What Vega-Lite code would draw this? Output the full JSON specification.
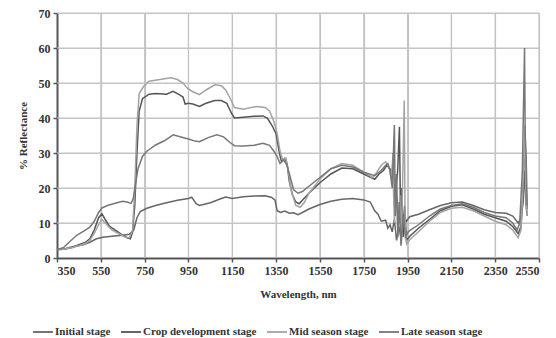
{
  "$schema": "https://vega.github.io/schema/vega-lite/v6.json",
  "width": 482,
  "height": 245,
  "autosize": {"type": "none"},
  "padding": {"left": 57, "top": 13, "right": 17, "bottom": 80},
  "background": "white",
  "config": {
    "view": {"stroke": null},
    "font": "Liberation Serif",
    "axis": {"grid": false, "labelFont": "Liberation Serif", "titleFont": "Liberation Serif", "labelFontWeight": "bold", "titleFontWeight": "bold", "labelFontSize": 12, "titleFontSize": 11, "labelColor": "#333", "titleColor": "#333", "domainColor": "#555", "domainWidth": 2, "tickColor": "#555", "tickSize": 4, "tickWidth": 1.5}
  },
  "resolve": {"axis": {"x": "independent", "y": "independent"}},
  "datasets": {
    "gx": [{"g":550,"a":0,"b":70},{"g":750,"a":0,"b":70},{"g":950,"a":0,"b":70},{"g":1150,"a":0,"b":70},{"g":1350,"a":0,"b":70},{"g":1550,"a":0,"b":70},{"g":1750,"a":0,"b":70},{"g":1950,"a":0,"b":70},{"g":2150,"a":0,"b":70},{"g":2350,"a":0,"b":70},{"g":2550,"a":0,"b":70}],
    "gy": [{"g":10,"a":350,"b":2550},{"g":20,"a":350,"b":2550},{"g":30,"a":350,"b":2550},{"g":40,"a":350,"b":2550},{"g":50,"a":350,"b":2550},{"g":60,"a":350,"b":2550},{"g":70,"a":350,"b":2550}]
  },
  "layer": [
    {
      "data": {"name": "gx"},
      "mark": {"type": "rule", "stroke": "#c4c4c4", "strokeWidth": 1.2},
      "encoding": {
        "x": {"field": "g", "type": "quantitative", "scale": {"domain": [350, 2550], "nice": false, "zero": false},
          "axis": {"orient": "top", "values": [550, 750, 950, 1150, 1350, 1550, 1750, 1950, 2150, 2350, 2550], "labels": false, "domain": false, "title": null, "tickSize": -245, "tickColor": "#c4c4c4", "tickWidth": 1.2}},
        "y": {"field": "a", "type": "quantitative", "scale": {"domain": [0, 70], "nice": false}, "axis": null},
        "y2": {"field": "b"}
      }
    },
    {
      "data": {"name": "gy"},
      "mark": {"type": "rule", "stroke": "#c4c4c4", "strokeWidth": 1.2},
      "encoding": {
        "y": {"field": "g", "type": "quantitative", "scale": {"domain": [0, 70], "nice": false},
          "axis": {"orient": "right", "values": [10, 20, 30, 40, 50, 60, 70], "labels": false, "domain": false, "title": null, "tickSize": -482, "tickColor": "#c4c4c4", "tickWidth": 1.2}},
        "x": {"field": "a", "type": "quantitative", "scale": {"domain": [350, 2550], "nice": false, "zero": false}, "axis": null},
        "x2": {"field": "b"}
      }
    },
    {
      "data": {"values": [
    {"w":350,"r":2.4,"s":"Initial stage"},{"w":380,"r":2.5,"s":"Initial stage"},{"w":420,"r":3.2,"s":"Initial stage"},{"w":470,"r":3.8,"s":"Initial stage"},{"w":500,"r":4.5,"s":"Initial stage"},{"w":530,"r":5.5,"s":"Initial stage"},{"w":560,"r":5.9,"s":"Initial stage"},{"w":600,"r":6.2,"s":"Initial stage"},{"w":650,"r":6.5,"s":"Initial stage"},{"w":680,"r":6.8,"s":"Initial stage"},{"w":700,"r":8,"s":"Initial stage"},{"w":715,"r":11.5,"s":"Initial stage"},{"w":730,"r":13.3,"s":"Initial stage"},{"w":760,"r":14.2,"s":"Initial stage"},{"w":800,"r":15,"s":"Initial stage"},{"w":850,"r":15.8,"s":"Initial stage"},{"w":900,"r":16.5,"s":"Initial stage"},{"w":950,"r":17,"s":"Initial stage"},{"w":965,"r":17.4,"s":"Initial stage"},{"w":985,"r":15.5,"s":"Initial stage"},{"w":1000,"r":15,"s":"Initial stage"},{"w":1050,"r":15.8,"s":"Initial stage"},{"w":1100,"r":17,"s":"Initial stage"},{"w":1120,"r":17.4,"s":"Initial stage"},{"w":1150,"r":17,"s":"Initial stage"},{"w":1200,"r":17.5,"s":"Initial stage"},{"w":1250,"r":17.7,"s":"Initial stage"},{"w":1300,"r":17.8,"s":"Initial stage"},{"w":1330,"r":17.3,"s":"Initial stage"},{"w":1345,"r":16.5,"s":"Initial stage"},{"w":1355,"r":13.5,"s":"Initial stage"},{"w":1370,"r":13,"s":"Initial stage"},{"w":1390,"r":13.4,"s":"Initial stage"},{"w":1410,"r":12.8,"s":"Initial stage"},{"w":1430,"r":12.9,"s":"Initial stage"},{"w":1450,"r":12.4,"s":"Initial stage"},{"w":1470,"r":13,"s":"Initial stage"},{"w":1500,"r":14,"s":"Initial stage"},{"w":1550,"r":15.3,"s":"Initial stage"},{"w":1600,"r":16.2,"s":"Initial stage"},{"w":1650,"r":16.8,"s":"Initial stage"},{"w":1700,"r":17,"s":"Initial stage"},{"w":1750,"r":16.6,"s":"Initial stage"},{"w":1780,"r":16,"s":"Initial stage"},{"w":1800,"r":13.5,"s":"Initial stage"},{"w":1815,"r":12.5,"s":"Initial stage"},{"w":1830,"r":10.5,"s":"Initial stage"},{"w":1850,"r":10.8,"s":"Initial stage"},{"w":1860,"r":8.5,"s":"Initial stage"},{"w":1870,"r":9.5,"s":"Initial stage"},{"w":1880,"r":7.5,"s":"Initial stage"},{"w":1890,"r":11,"s":"Initial stage"},{"w":1900,"r":5,"s":"Initial stage"},{"w":1910,"r":9,"s":"Initial stage"},{"w":1920,"r":6,"s":"Initial stage"},{"w":1930,"r":12,"s":"Initial stage"},{"w":1945,"r":10.5,"s":"Initial stage"},{"w":1960,"r":11.8,"s":"Initial stage"},{"w":2000,"r":12.5,"s":"Initial stage"},{"w":2050,"r":13.8,"s":"Initial stage"},{"w":2100,"r":15,"s":"Initial stage"},{"w":2150,"r":15.8,"s":"Initial stage"},{"w":2200,"r":16,"s":"Initial stage"},{"w":2250,"r":15,"s":"Initial stage"},{"w":2300,"r":13.8,"s":"Initial stage"},{"w":2350,"r":13,"s":"Initial stage"},{"w":2400,"r":12.8,"s":"Initial stage"},{"w":2430,"r":12,"s":"Initial stage"},{"w":2455,"r":10,"s":"Initial stage"},{"w":2468,"r":11.5,"s":"Initial stage"},{"w":2478,"r":16,"s":"Initial stage"},{"w":2486,"r":25,"s":"Initial stage"},{"w":2491,"r":15,"s":"Initial stage"},{"w":2496,"r":12,"s":"Initial stage"},

    {"w":350,"r":2.4,"s":"Crop development stage"},{"w":380,"r":2.5,"s":"Crop development stage"},{"w":420,"r":3,"s":"Crop development stage"},{"w":450,"r":3.8,"s":"Crop development stage"},{"w":480,"r":4.5,"s":"Crop development stage"},{"w":500,"r":5.5,"s":"Crop development stage"},{"w":520,"r":8,"s":"Crop development stage"},{"w":540,"r":11.5,"s":"Crop development stage"},{"w":555,"r":12.6,"s":"Crop development stage"},{"w":570,"r":11,"s":"Crop development stage"},{"w":590,"r":9,"s":"Crop development stage"},{"w":620,"r":7.8,"s":"Crop development stage"},{"w":650,"r":6.5,"s":"Crop development stage"},{"w":670,"r":5.8,"s":"Crop development stage"},{"w":685,"r":5.5,"s":"Crop development stage"},{"w":695,"r":7.5,"s":"Crop development stage"},{"w":705,"r":15,"s":"Crop development stage"},{"w":715,"r":30,"s":"Crop development stage"},{"w":725,"r":42,"s":"Crop development stage"},{"w":740,"r":45.5,"s":"Crop development stage"},{"w":770,"r":46.8,"s":"Crop development stage"},{"w":800,"r":47,"s":"Crop development stage"},{"w":850,"r":46.8,"s":"Crop development stage"},{"w":880,"r":47.6,"s":"Crop development stage"},{"w":910,"r":46.6,"s":"Crop development stage"},{"w":925,"r":46,"s":"Crop development stage"},{"w":935,"r":44,"s":"Crop development stage"},{"w":950,"r":44.2,"s":"Crop development stage"},{"w":970,"r":44,"s":"Crop development stage"},{"w":1000,"r":43.3,"s":"Crop development stage"},{"w":1030,"r":44.2,"s":"Crop development stage"},{"w":1070,"r":45,"s":"Crop development stage"},{"w":1100,"r":45,"s":"Crop development stage"},{"w":1125,"r":44.2,"s":"Crop development stage"},{"w":1145,"r":41.5,"s":"Crop development stage"},{"w":1160,"r":40,"s":"Crop development stage"},{"w":1200,"r":40.2,"s":"Crop development stage"},{"w":1250,"r":40.5,"s":"Crop development stage"},{"w":1290,"r":40.6,"s":"Crop development stage"},{"w":1310,"r":40,"s":"Crop development stage"},{"w":1330,"r":38,"s":"Crop development stage"},{"w":1350,"r":35.5,"s":"Crop development stage"},{"w":1365,"r":30,"s":"Crop development stage"},{"w":1375,"r":27.5,"s":"Crop development stage"},{"w":1390,"r":28.5,"s":"Crop development stage"},{"w":1400,"r":27,"s":"Crop development stage"},{"w":1410,"r":22,"s":"Crop development stage"},{"w":1425,"r":18,"s":"Crop development stage"},{"w":1440,"r":16,"s":"Crop development stage"},{"w":1455,"r":15.5,"s":"Crop development stage"},{"w":1470,"r":16.5,"s":"Crop development stage"},{"w":1500,"r":18.5,"s":"Crop development stage"},{"w":1550,"r":21.5,"s":"Crop development stage"},{"w":1600,"r":24,"s":"Crop development stage"},{"w":1650,"r":25.7,"s":"Crop development stage"},{"w":1700,"r":25.5,"s":"Crop development stage"},{"w":1750,"r":24,"s":"Crop development stage"},{"w":1800,"r":22.5,"s":"Crop development stage"},{"w":1820,"r":24,"s":"Crop development stage"},{"w":1840,"r":25,"s":"Crop development stage"},{"w":1855,"r":26.5,"s":"Crop development stage"},{"w":1870,"r":25.5,"s":"Crop development stage"},{"w":1880,"r":22,"s":"Crop development stage"},{"w":1885,"r":30,"s":"Crop development stage"},{"w":1890,"r":15,"s":"Crop development stage"},{"w":1905,"r":25,"s":"Crop development stage"},{"w":1913,"r":37.5,"s":"Crop development stage"},{"w":1918,"r":12,"s":"Crop development stage"},{"w":1924,"r":20,"s":"Crop development stage"},{"w":1930,"r":6,"s":"Crop development stage"},{"w":1937,"r":15,"s":"Crop development stage"},{"w":1945,"r":5,"s":"Crop development stage"},{"w":1960,"r":6.2,"s":"Crop development stage"},{"w":2000,"r":8.5,"s":"Crop development stage"},{"w":2050,"r":11,"s":"Crop development stage"},{"w":2100,"r":13.5,"s":"Crop development stage"},{"w":2150,"r":14.8,"s":"Crop development stage"},{"w":2200,"r":15.2,"s":"Crop development stage"},{"w":2250,"r":14,"s":"Crop development stage"},{"w":2300,"r":12.5,"s":"Crop development stage"},{"w":2350,"r":11.5,"s":"Crop development stage"},{"w":2400,"r":10.5,"s":"Crop development stage"},{"w":2430,"r":9,"s":"Crop development stage"},{"w":2455,"r":7,"s":"Crop development stage"},{"w":2468,"r":9,"s":"Crop development stage"},{"w":2478,"r":20,"s":"Crop development stage"},{"w":2486,"r":36,"s":"Crop development stage"},{"w":2490,"r":22,"s":"Crop development stage"},{"w":2496,"r":14,"s":"Crop development stage"},

    {"w":350,"r":2.4,"s":"Mid season stage"},{"w":380,"r":2.5,"s":"Mid season stage"},{"w":420,"r":3,"s":"Mid season stage"},{"w":450,"r":3.5,"s":"Mid season stage"},{"w":480,"r":4.2,"s":"Mid season stage"},{"w":500,"r":5,"s":"Mid season stage"},{"w":520,"r":7,"s":"Mid season stage"},{"w":540,"r":9.5,"s":"Mid season stage"},{"w":555,"r":11,"s":"Mid season stage"},{"w":570,"r":10,"s":"Mid season stage"},{"w":600,"r":8,"s":"Mid season stage"},{"w":630,"r":7,"s":"Mid season stage"},{"w":660,"r":6,"s":"Mid season stage"},{"w":680,"r":5.8,"s":"Mid season stage"},{"w":695,"r":8,"s":"Mid season stage"},{"w":705,"r":20,"s":"Mid season stage"},{"w":715,"r":38,"s":"Mid season stage"},{"w":725,"r":47,"s":"Mid season stage"},{"w":745,"r":49,"s":"Mid season stage"},{"w":770,"r":50.5,"s":"Mid season stage"},{"w":820,"r":51,"s":"Mid season stage"},{"w":870,"r":51.5,"s":"Mid season stage"},{"w":900,"r":51,"s":"Mid season stage"},{"w":925,"r":50,"s":"Mid season stage"},{"w":945,"r":48.5,"s":"Mid season stage"},{"w":970,"r":47.5,"s":"Mid season stage"},{"w":1000,"r":46.7,"s":"Mid season stage"},{"w":1030,"r":48,"s":"Mid season stage"},{"w":1070,"r":49.5,"s":"Mid season stage"},{"w":1100,"r":49.2,"s":"Mid season stage"},{"w":1120,"r":48,"s":"Mid season stage"},{"w":1145,"r":45,"s":"Mid season stage"},{"w":1160,"r":43,"s":"Mid season stage"},{"w":1200,"r":42.5,"s":"Mid season stage"},{"w":1260,"r":43.3,"s":"Mid season stage"},{"w":1300,"r":43,"s":"Mid season stage"},{"w":1320,"r":42,"s":"Mid season stage"},{"w":1340,"r":39,"s":"Mid season stage"},{"w":1355,"r":35.5,"s":"Mid season stage"},{"w":1368,"r":30.5,"s":"Mid season stage"},{"w":1380,"r":28,"s":"Mid season stage"},{"w":1395,"r":28.5,"s":"Mid season stage"},{"w":1405,"r":25,"s":"Mid season stage"},{"w":1420,"r":19,"s":"Mid season stage"},{"w":1440,"r":15,"s":"Mid season stage"},{"w":1460,"r":14.5,"s":"Mid season stage"},{"w":1480,"r":16,"s":"Mid season stage"},{"w":1500,"r":18.5,"s":"Mid season stage"},{"w":1550,"r":22.5,"s":"Mid season stage"},{"w":1600,"r":25.5,"s":"Mid season stage"},{"w":1650,"r":27,"s":"Mid season stage"},{"w":1700,"r":26.5,"s":"Mid season stage"},{"w":1750,"r":24.5,"s":"Mid season stage"},{"w":1790,"r":23,"s":"Mid season stage"},{"w":1810,"r":24.5,"s":"Mid season stage"},{"w":1830,"r":26.5,"s":"Mid season stage"},{"w":1850,"r":27.5,"s":"Mid season stage"},{"w":1865,"r":26,"s":"Mid season stage"},{"w":1875,"r":23,"s":"Mid season stage"},{"w":1882,"r":28,"s":"Mid season stage"},{"w":1890,"r":10,"s":"Mid season stage"},{"w":1898,"r":22,"s":"Mid season stage"},{"w":1905,"r":8,"s":"Mid season stage"},{"w":1915,"r":18,"s":"Mid season stage"},{"w":1922,"r":4,"s":"Mid season stage"},{"w":1935,"r":45,"s":"Mid season stage"},{"w":1939,"r":8,"s":"Mid season stage"},{"w":1946,"r":4,"s":"Mid season stage"},{"w":1960,"r":5.2,"s":"Mid season stage"},{"w":2000,"r":7.5,"s":"Mid season stage"},{"w":2050,"r":10.5,"s":"Mid season stage"},{"w":2100,"r":13,"s":"Mid season stage"},{"w":2150,"r":14.2,"s":"Mid season stage"},{"w":2200,"r":14.5,"s":"Mid season stage"},{"w":2250,"r":13.5,"s":"Mid season stage"},{"w":2300,"r":12,"s":"Mid season stage"},{"w":2350,"r":10.5,"s":"Mid season stage"},{"w":2400,"r":9.5,"s":"Mid season stage"},{"w":2430,"r":8,"s":"Mid season stage"},{"w":2455,"r":5.8,"s":"Mid season stage"},{"w":2468,"r":8,"s":"Mid season stage"},{"w":2478,"r":22,"s":"Mid season stage"},{"w":2486,"r":38,"s":"Mid season stage"},{"w":2490,"r":20,"s":"Mid season stage"},{"w":2496,"r":12,"s":"Mid season stage"},

    {"w":350,"r":2.4,"s":"Late season stage"},{"w":380,"r":3,"s":"Late season stage"},{"w":410,"r":4.8,"s":"Late season stage"},{"w":440,"r":6.5,"s":"Late season stage"},{"w":470,"r":7.6,"s":"Late season stage"},{"w":500,"r":8.8,"s":"Late season stage"},{"w":520,"r":10.5,"s":"Late season stage"},{"w":540,"r":13,"s":"Late season stage"},{"w":555,"r":14.3,"s":"Late season stage"},{"w":580,"r":15,"s":"Late season stage"},{"w":620,"r":15.7,"s":"Late season stage"},{"w":650,"r":16.2,"s":"Late season stage"},{"w":670,"r":16,"s":"Late season stage"},{"w":688,"r":15.6,"s":"Late season stage"},{"w":698,"r":17,"s":"Late season stage"},{"w":708,"r":21,"s":"Late season stage"},{"w":720,"r":25.5,"s":"Late season stage"},{"w":740,"r":29,"s":"Late season stage"},{"w":760,"r":30.5,"s":"Late season stage"},{"w":800,"r":32.3,"s":"Late season stage"},{"w":840,"r":33.5,"s":"Late season stage"},{"w":880,"r":35.2,"s":"Late season stage"},{"w":920,"r":34.5,"s":"Late season stage"},{"w":950,"r":34,"s":"Late season stage"},{"w":980,"r":33.4,"s":"Late season stage"},{"w":1000,"r":33.2,"s":"Late season stage"},{"w":1040,"r":34.4,"s":"Late season stage"},{"w":1080,"r":35.2,"s":"Late season stage"},{"w":1110,"r":34.6,"s":"Late season stage"},{"w":1140,"r":33,"s":"Late season stage"},{"w":1160,"r":32.1,"s":"Late season stage"},{"w":1200,"r":32,"s":"Late season stage"},{"w":1250,"r":32.2,"s":"Late season stage"},{"w":1290,"r":32.8,"s":"Late season stage"},{"w":1320,"r":32.2,"s":"Late season stage"},{"w":1340,"r":30.5,"s":"Late season stage"},{"w":1355,"r":29,"s":"Late season stage"},{"w":1368,"r":27,"s":"Late season stage"},{"w":1385,"r":28,"s":"Late season stage"},{"w":1400,"r":26.5,"s":"Late season stage"},{"w":1415,"r":23,"s":"Late season stage"},{"w":1430,"r":19.5,"s":"Late season stage"},{"w":1450,"r":18.5,"s":"Late season stage"},{"w":1470,"r":19,"s":"Late season stage"},{"w":1500,"r":20.5,"s":"Late season stage"},{"w":1550,"r":23,"s":"Late season stage"},{"w":1600,"r":25.5,"s":"Late season stage"},{"w":1650,"r":26.5,"s":"Late season stage"},{"w":1700,"r":26,"s":"Late season stage"},{"w":1750,"r":24.5,"s":"Late season stage"},{"w":1800,"r":23.5,"s":"Late season stage"},{"w":1830,"r":25,"s":"Late season stage"},{"w":1850,"r":26.5,"s":"Late season stage"},{"w":1860,"r":27,"s":"Late season stage"},{"w":1870,"r":25,"s":"Late season stage"},{"w":1880,"r":20,"s":"Late season stage"},{"w":1890,"r":38,"s":"Late season stage"},{"w":1894,"r":12,"s":"Late season stage"},{"w":1900,"r":24,"s":"Late season stage"},{"w":1906,"r":6,"s":"Late season stage"},{"w":1912,"r":16,"s":"Late season stage"},{"w":1920,"r":3.5,"s":"Late season stage"},{"w":1930,"r":12,"s":"Late season stage"},{"w":1940,"r":6,"s":"Late season stage"},{"w":1955,"r":7.6,"s":"Late season stage"},{"w":2000,"r":9.5,"s":"Late season stage"},{"w":2050,"r":12,"s":"Late season stage"},{"w":2100,"r":14,"s":"Late season stage"},{"w":2150,"r":15,"s":"Late season stage"},{"w":2200,"r":15.5,"s":"Late season stage"},{"w":2250,"r":14.5,"s":"Late season stage"},{"w":2300,"r":13,"s":"Late season stage"},{"w":2350,"r":12,"s":"Late season stage"},{"w":2400,"r":11.5,"s":"Late season stage"},{"w":2430,"r":10,"s":"Late season stage"},{"w":2450,"r":8,"s":"Late season stage"},{"w":2462,"r":10,"s":"Late season stage"},{"w":2474,"r":25,"s":"Late season stage"},{"w":2484,"r":60,"s":"Late season stage"},{"w":2487,"r":35,"s":"Late season stage"},{"w":2491,"r":30,"s":"Late season stage"},{"w":2496,"r":15,"s":"Late season stage"}
      ]},
      "mark": {"type": "line", "strokeWidth": 1.5, "interpolate": "linear"},
      "encoding": {
        "x": {"field": "w", "type": "quantitative", "scale": {"domain": [350, 2550], "nice": false, "zero": false},
          "axis": {"orient": "bottom", "values": [350, 550, 750, 950, 1150, 1350, 1550, 1750, 1950, 2150, 2350, 2550], "title": "Wavelength, nm", "labelPadding": 3, "titlePadding": 12, "format": "d"}},
        "y": {"field": "r", "type": "quantitative", "scale": {"domain": [0, 70], "nice": false},
          "axis": {"orient": "left", "values": [0, 10, 20, 30, 40, 50, 60, 70], "title": "% Reflectance", "labelPadding": 3, "titlePadding": 10}},
        "color": {"field": "s", "type": "nominal",
          "scale": {"domain": ["Initial stage", "Crop development stage", "Mid season stage", "Late season stage"], "range": ["#666666", "#555555", "#a3a3a3", "#777777"]},
          "legend": {"title": null, "orient": "none", "legendX": -25, "legendY": 308, "direction": "horizontal", "symbolType": "stroke", "symbolSize": 400, "symbolStrokeWidth": 1.8, "labelFont": "Liberation Serif", "labelFontWeight": "bold", "labelFontSize": 11, "labelColor": "#333", "labelOffset": 1, "columnPadding": 6}},
        "order": {"field": "w", "type": "quantitative"}
      }
    }
  ]
}
